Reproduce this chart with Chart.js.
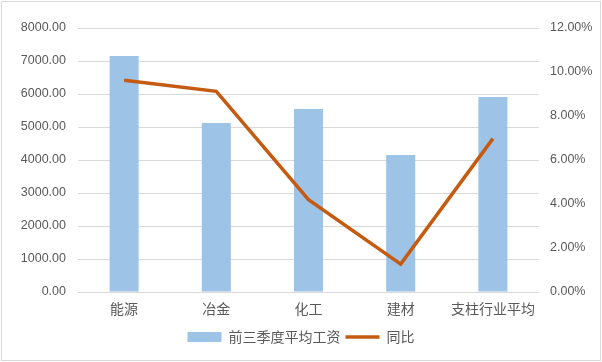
<!DOCTYPE html>
<html>
<head>
<meta charset="utf-8">
<script src="https://cdn.jsdelivr.net/npm/chart.js@4.4.0/dist/chart.umd.min.js"></script>
<style>
    body { margin: 0; background: #fff; }
    #wrap { position: absolute; left: 1px; top: 1px; width: 598px; height: 358px; border: 1px solid #d9d9d9; }
</style>
</head>
<body>
<div id="wrap"><canvas id="wageChart" width="598" height="358"></canvas></div>
<script>
// =====================
// Chart data
// =====================
const categories = ['能源', '冶金', '化工', '建材', '支柱行业平均'];
const avgWage = [7150, 5120, 5545, 4150, 5910];       // 前三季度平均工资
const yoyRate = [9.62, 9.12, 4.2, 1.27, 6.97];         // 同比 (%)
const leftTicks = [0, 1000, 2000, 3000, 4000, 5000, 6000, 7000, 8000];
const rightTicks = [0, 2, 4, 6, 8, 10, 12];

const textColor = '#595959';
const gridColor = '#d9d9d9';
const tickFont = { family: '"Liberation Sans", Arial, sans-serif', size: 12.5 };
const cjkFont = { family: '"Noto Sans CJK SC", sans-serif', size: 14 };

// =====================
// Build chart
// =====================
const ctx = document.getElementById('wageChart').getContext('2d');
const wageChart = new Chart(ctx, {
    data: {
        labels: categories,
        datasets: [
            {
                type: 'line',
                label: '同比',
                data: yoyRate,
                yAxisID: 'yRight',
                borderColor: '#c55a11',
                backgroundColor: '#c55a11',
                borderWidth: 3.5,
                pointRadius: 0,
                tension: 0,
                order: 0
            },
            {
                type: 'bar',
                label: '前三季度平均工资',
                data: avgWage,
                yAxisID: 'yLeft',
                backgroundColor: '#9dc3e6',
                borderWidth: 0,
                barPercentage: 0.315,
                categoryPercentage: 1,
                order: 1
            }
        ]
    },
    options: {
        responsive: false,
        animation: false,
        layout: { padding: { top: 26, left: 0, right: 0, bottom: 6 } },
        plugins: {
            tooltip: { enabled: false },
            legend: {
                position: 'bottom',
                reverse: true,
                labels: {
                    color: textColor,
                    font: cjkFont,
                    usePointStyle: true,
                    pointStyleWidth: 34,
                    boxHeight: 10,
                    padding: 5,
                    generateLabels(chart) {
                        const items = Chart.defaults.plugins.legend.labels.generateLabels(chart);
                        items.forEach(item => {
                            item.pointStyle = chart.data.datasets[item.datasetIndex].type === 'line' ? 'line' : 'rect';
                        });
                        return items;
                    }
                }
            }
        },
        scales: {
            x: {
                grid: { display: false, drawTicks: false },
                border: { display: false },
                ticks: { color: textColor, font: cjkFont, padding: 8 },
                afterFit(scale) { scale.height = 33; }
            },
            yLeft: {
                position: 'left',
                min: 0,
                max: 8000,
                afterBuildTicks(scale) { scale.ticks = leftTicks.map(v => ({ value: v })); },
                grid: { color: gridColor, drawTicks: false },
                border: { display: false },
                ticks: {
                    color: textColor,
                    font: tickFont,
                    padding: 12,
                    callback: v => v.toFixed(2)
                },
                afterFit(scale) { scale.width = 76; }
            },
            yRight: {
                position: 'right',
                min: 0,
                max: 12,
                afterBuildTicks(scale) { scale.ticks = rightTicks.map(v => ({ value: v })); },
                grid: { display: false, drawTicks: false },
                border: { display: false },
                ticks: {
                    color: textColor,
                    font: tickFont,
                    padding: 11,
                    callback: v => v.toFixed(2) + '%'
                },
                afterFit(scale) { scale.width = 61; }
            }
        }
    }
});
</script>
</body>
</html>
